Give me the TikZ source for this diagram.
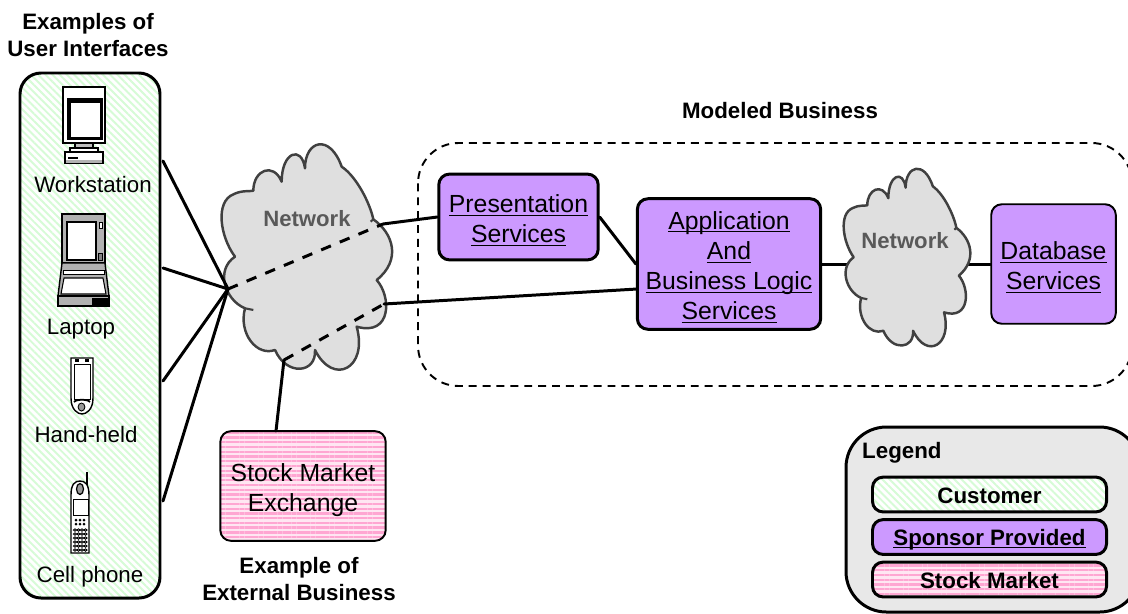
\documentclass[tikz,border=0pt]{standalone}
\usepackage{fontspec}
\setmainfont{Liberation Sans}
\usetikzlibrary{patterns.meta}
\definecolor{sponsor}{HTML}{CC99FF}
\definecolor{cloudgray}{HTML}{DFDFDF}
\definecolor{legendgray}{HTML}{E8E8E8}
\definecolor{cloudtext}{HTML}{595959}
\definecolor{stripegreen}{HTML}{D6FBD6}
\definecolor{stripepink}{HTML}{FFA6D2}
\definecolor{palepink}{HTML}{FFE6F2}
\newcommand{\svc}[1]{\vphantom{Ag}\underline{\smash{#1}}}
\newcommand{\svctop}[1]{\rule{0pt}{15pt}\svc{#1}}
\tikzset{
  every node/.style={align=center, font=\fontsize{14.1}{17.2}\selectfont},
  link/.style={line width=1.7pt, line cap=round},
  dashlink/.style={line width=1.7pt, dash pattern=on 6pt off 5.5pt},
  box/.style={draw, rounded corners=6pt, line width=1.7pt, inner sep=0pt, minimum width=#1},
  sponsorbox/.style={box=#1, fill=sponsor},
  customerfill/.style={preaction={fill=white}, pattern={Lines[angle=-45, distance=2.9pt, line width=1.1pt]}, pattern color=stripegreen},
  stockfill/.style={preaction={fill=palepink}, pattern={Lines[angle=0, distance=2.7pt, line width=1.3pt]}, pattern color=stripepink},
  title/.style={font=\fontsize{12.7}{15.3}\selectfont\bfseries},
  devlabel/.style={font=\fontsize{12.7}{15}\selectfont},
  netlabel/.style={font=\fontsize{12.6}{15}\selectfont\bfseries, text=cloudtext},
  netcloud/.pic={
    \draw[draw=black!75, fill=cloudgray, line width=1.4pt, line join=round]
      (75,380) .. controls (30,320) and (15,215) .. (70,193)
      .. controls (95,180) and (120,185) .. (130,182)
      .. controls (130,120) and (190,95) .. (215,155)
      .. controls (215,65) and (275,45) .. (285,115)
      .. controls (285,30) and (360,10) .. (395,110)
      .. controls (440,140) and (480,220) .. (490,268)
      .. controls (550,310) and (575,390) .. (500,450)
      .. controls (545,500) and (545,620) .. (440,590)
      .. controls (475,715) and (370,770) .. (315,660)
      .. controls (320,730) and (230,740) .. (195,660)
      .. controls (140,680) and (85,610) .. (105,535)
      .. controls (45,510) and (15,420) .. (75,380) -- cycle;
    \draw[black!75, line width=1.2pt] (105,535) -- (130,540);
    \draw[black!75, line width=1.2pt] (490,268) -- (482,275);
  }
}
\begin{document}
\begin{tikzpicture}[x=0.02cm, y=-0.02cm]
\useasboundingbox (0,0) rectangle (1128,613);

% dashed frame and legend run off the right side
\draw[line width=1.1pt, dash pattern=on 4.5pt off 3.4pt, rounded corners=23pt] (418,143) rectangle (1132,386);
\draw[line width=1.7pt, fill=legendgray, rounded corners=23pt] (846,427) rectangle (1140,612);

% boxes
\draw[customerfill, line width=1.7pt, rounded corners=12pt] (20,73) rectangle (160,598);
\node[title] (usertitle) at (88,35) {Examples of\\User Interfaces};
\coordinate (userA) at (163,161);
\coordinate (userB) at (163,268);
\coordinate (userC) at (163,381);
\coordinate (userD) at (163,501);

\node[sponsorbox=90.7pt, minimum height=48.8pt] (pres) at (518.5,217) {\svctop{Presentation}\\\svc{Services}};
\node[sponsorbox=104.3pt, minimum height=74.3pt] (app) at (729,264) {\svctop{Application}\\\svc{And}\\\svc{Business Logic}\\\svc{Services}};
\node[sponsorbox=70.9pt, minimum height=68pt, line width=1.1pt] (db) at (1053.5,264) {\svctop{Database}\\\svc{Services}};
\node[box=94.1pt, minimum height=62.4pt, line width=1.1pt, stockfill] (stock) at (303,486) {};
\node (stocktext) at (303,490) {Stock Market\\Exchange};
\node[title] (modeled) at (780,111) {Modeled Business};
\node[title] (exttitle) at (299,579) {Example of\\External Business};

% legend
\node[title, anchor=west] (legend) at (856,453) {Legend};
\node[box=133.2pt, minimum height=19.8pt, customerfill] (legcust) at (989.5,494.5) {};
\node[title] (legcusttext) at (989.5,496) {Customer};
\node[sponsorbox=133.2pt, minimum height=19.8pt] (legspon) at (989.5,537) {};
\node[title] (legspontext) at (989.5,540) {\svc{Sponsor Provided}};
\node[box=133.2pt, minimum height=19.8pt, stockfill] (legstock) at (989.5,579.5) {};
\node[title] (legstocktext) at (989.5,581) {Stock Market};

% connectors
\draw[link] (app.east) -- (db.west);
\pic at (845-9.9,168-10.5) [xscale=0.2475, yscale=0.2625] {netcloud};
\pic at (210,130) [xscale=0.3333, yscale=0.3333] {netcloud};

\coordinate (hub) at (228,289);
\coordinate (netA) at (383,224);
\coordinate (netB) at (384,304);
\coordinate (netC) at (284,360);
\coordinate (appB) at (637,289);
\coordinate (stockA) at (276,431);
\draw[link] (userA) -- (hub);
\draw[link] (userB) -- (hub);
\draw[link] (userC) -- (hub);
\draw[link] (userD) -- (hub);
\draw[dashlink] (hub) -- (netA);
\draw[dashlink] (netC) -- (netB);
\draw[link] (netA) -- (pres.west);
\draw[link] (pres.east) -- (app.west);
\draw[link] (netB) -- (appB);
\draw[link] (netC) -- (stockA);

\node[netlabel] (net1) at (307,219) {Network};
\node[netlabel] (net2) at (905,241) {Network};

% devices
\node[devlabel] (workstation) at (93,185) {Workstation};
\node[devlabel] (laptop) at (81,329) {Laptop};
\node[devlabel] (handheld) at (86,435) {Hand-held};
\node[devlabel] (cellphone) at (90,577) {Cell phone};

% workstation icon
\draw[fill=white, line width=0.6pt] (63,87) rectangle (105,143);
\fill (67,98) rectangle (103,140);
\fill[white] (71,103) rectangle (100,137);
\draw[fill=black!25, line width=0.6pt] (75,143) rectangle (93,148);
\draw[fill=white, line width=0.6pt] (70,148) rectangle (98,152);
\draw[fill=white, line width=0.6pt] (65,152) rectangle (103,163);
\fill[black!30] (66,160) rectangle (102,163);
\draw[line width=0.8pt] (68,158) -- (78,158);

% laptop icon
\draw[fill=black!30, line width=0.8pt] (62,214) rectangle (105,263);
\draw[fill=white, line width=0.6pt] (67,222) rectangle (96,260);
\draw[fill=white, line width=0.4pt] (99,222) rectangle (102,228);
\draw[fill=black!50, line width=0.4pt] (98,253) rectangle (102,260);
\draw[fill=black!30, line width=0.8pt] (62,263) -- (105,263) -- (109,296) -- (58,296) -- cycle;
\draw[fill=white, line width=0.5pt] (63,270) rectangle (104,274);
\draw[fill=white, line width=0.6pt] (64,278) -- (103,278) -- (106,294) -- (61,294) -- cycle;
\draw[fill=black!30, line width=0.8pt] (58,296) rectangle (109,306);
\fill (92,298) rectangle (108,305);

% hand-held icon
\draw[fill=white, line width=0.8pt] (71,358) -- (93,358) -- (93,398) .. controls (93,410) and (86,414) .. (82,414) .. controls (78,414) and (71,410) .. (71,398) -- cycle;
\draw[fill=white, line width=0.5pt] (74,364) rectangle (90,399);
\fill (75,359) rectangle (79,362);
\fill (85,359) rectangle (89,362);
\draw[line width=1pt] (74,402) .. controls (76,399) and (88,399) .. (90,402);
\draw[fill=black!40, line width=0.5pt] (81.5,407) circle (3.4 and 4);

% cell phone icon
\draw[line width=1.2pt] (87,472) -- (87,490);
\draw[fill=white, line width=0.8pt] (71,553) -- (71,495) .. controls (71,484) and (75,481) .. (80,481) .. controls (85,481) and (89,484) .. (89,495) -- (89,553) -- cycle;
\draw[fill=black!40, line width=0.7pt] (80,489) circle (3.5 and 5.5);
\draw[fill=white, line width=0.5pt] (73,499) rectangle (88,515);
\foreach \col in {76,80,84} \foreach \row in {520,524} \fill (\col,\row) circle (1.5);
\foreach \col in {75,78.5,82,85.5} \foreach \row in {530,534,538,542,546,550} \draw[line width=0.5pt] (\col,\row) circle (1.6 and 1.2);
\end{tikzpicture}
\end{document}
